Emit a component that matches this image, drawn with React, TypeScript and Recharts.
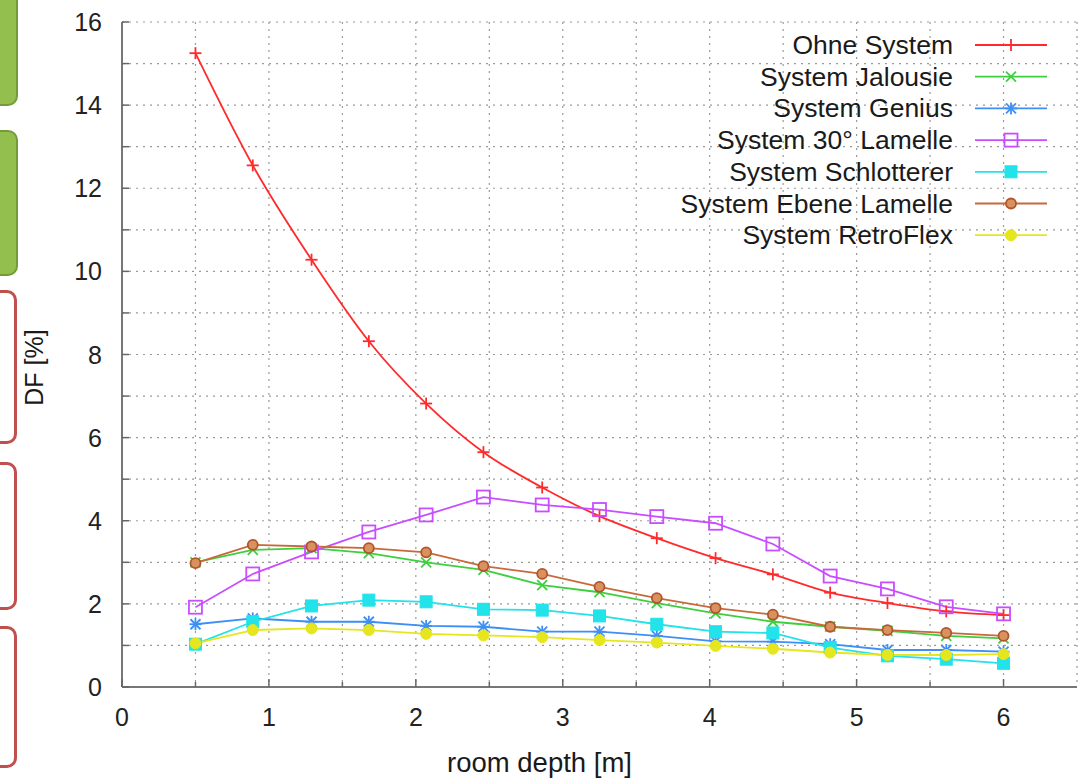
import React from "react";
import {
  LineChart,
  Line,
  XAxis,
  YAxis,
  CartesianGrid,
  Legend,
} from "recharts";

// ---- data ----
const DEPTH = [0.5, 0.89, 1.29, 1.68, 2.07, 2.46, 2.86, 3.25, 3.64, 4.04, 4.43, 4.82, 5.21, 5.61, 6.0];
const OHNE = [15.25, 12.55, 10.28, 8.32, 6.82, 5.65, 4.8, 4.11, 3.58, 3.1, 2.71, 2.27, 2.02, 1.82, 1.73];
const JALOUSIE = [3.0, 3.3, 3.34, 3.22, 3.0, 2.82, 2.45, 2.28, 2.02, 1.77, 1.57, 1.45, 1.35, 1.23, 1.17];
const GENIUS = [1.51, 1.65, 1.57, 1.57, 1.47, 1.45, 1.33, 1.33, 1.23, 1.1, 1.09, 1.03, 0.89, 0.89, 0.85];
const LAMELLE30 = [1.92, 2.72, 3.25, 3.73, 4.14, 4.57, 4.38, 4.27, 4.1, 3.94, 3.44, 2.67, 2.36, 1.93, 1.76];
const SCHLOTTERER = [1.03, 1.57, 1.95, 2.09, 2.05, 1.87, 1.85, 1.71, 1.51, 1.33, 1.3, 0.95, 0.75, 0.67, 0.57];
const EBENE = [2.98, 3.42, 3.38, 3.34, 3.24, 2.91, 2.72, 2.41, 2.14, 1.9, 1.74, 1.45, 1.37, 1.3, 1.23];
const RETROFLEX = [1.05, 1.37, 1.41, 1.37, 1.28, 1.24, 1.2, 1.13, 1.07, 0.99, 0.92, 0.83, 0.77, 0.77, 0.79];

const X_TICKS = [0, 0.5, 1, 1.5, 2, 2.5, 3, 3.5, 4, 4.5, 5, 5.5, 6];
const X_LABELS = [0, 1, 2, 3, 4, 5, 6];
const Y_TICKS = [0, 1, 2, 3, 4, 5, 6, 7, 8, 9, 10, 11, 12, 13, 14, 15, 16];
const Y_LABELS = [0, 2, 4, 6, 8, 10, 12, 14, 16];

type Shape = "plus" | "cross" | "star" | "openSquare" | "square" | "ring" | "dot";

const SERIES: { key: string; name: string; color: string; shape: Shape; values: number[]; curve: "monotone" | "linear" }[] = [
  { key: "ohne", name: "Ohne System", color: "#ff2b2b", shape: "plus", values: OHNE, curve: "monotone" },
  { key: "jalousie", name: "System Jalousie", color: "#3ecf3e", shape: "cross", values: JALOUSIE, curve: "linear" },
  { key: "genius", name: "System Genius", color: "#3d8ff5", shape: "star", values: GENIUS, curve: "linear" },
  { key: "lamelle30", name: "System 30° Lamelle", color: "#c84dff", shape: "openSquare", values: LAMELLE30, curve: "linear" },
  { key: "schlotterer", name: "System Schlotterer", color: "#22e2ea", shape: "square", values: SCHLOTTERER, curve: "linear" },
  { key: "ebene", name: "System Ebene Lamelle", color: "#c8693c", shape: "ring", values: EBENE, curve: "linear" },
  { key: "retroflex", name: "System RetroFlex", color: "#e6e61e", shape: "dot", values: RETROFLEX, curve: "linear" },
];

const data = DEPTH.map((d, i) => {
  const row: Record<string, number> = { depth: d };
  SERIES.forEach((s) => {
    row[s.key] = s.values[i];
  });
  return row;
});

const FONT = "'Liberation Sans', Arial, Helvetica, sans-serif";

function Marker({ x, y, shape, color }: { x: number; y: number; shape: Shape; color: string }) {
  switch (shape) {
    case "plus":
      return (
        <g stroke={color} strokeWidth={1.8}>
          <line x1={x - 6} y1={y} x2={x + 6} y2={y} />
          <line x1={x} y1={y - 6} x2={x} y2={y + 6} />
        </g>
      );
    case "cross":
      return (
        <g stroke={color} strokeWidth={1.8}>
          <line x1={x - 5} y1={y - 5} x2={x + 5} y2={y + 5} />
          <line x1={x - 5} y1={y + 5} x2={x + 5} y2={y - 5} />
        </g>
      );
    case "star":
      return (
        <g stroke={color} strokeWidth={1.8}>
          <line x1={x - 6} y1={y} x2={x + 6} y2={y} />
          <line x1={x} y1={y - 6} x2={x} y2={y + 6} />
          <line x1={x - 5} y1={y - 5} x2={x + 5} y2={y + 5} />
          <line x1={x - 5} y1={y + 5} x2={x + 5} y2={y - 5} />
        </g>
      );
    case "openSquare":
      return <rect x={x - 6.5} y={y - 6.5} width={13} height={13} fill="none" stroke={color} strokeWidth={1.8} />;
    case "square":
      return <rect x={x - 6} y={y - 6} width={12} height={12} fill={color} stroke={color} strokeWidth={1} />;
    case "ring":
      return <circle cx={x} cy={y} r={5} fill="#d8915f" stroke="#b0552a" strokeWidth={1.8} />;
    case "dot":
    default:
      return <circle cx={x} cy={y} r={5.5} fill={color} stroke={color} strokeWidth={1} />;
  }
}

const makeDot = (shape: Shape, color: string) => (props: any) => {
  const { cx, cy, index } = props;
  if (cx == null || cy == null) return <g key={`e-${index}`} />;
  return (
    <g key={`d-${index}`}>
      <Marker x={cx} y={cy} shape={shape} color={color} />
    </g>
  );
};

const BottomTick = (props: any) => {
  const { x, y, payload } = props;
  const v = payload.value;
  const major = X_LABELS.includes(v);
  return (
    <g>
      <line x1={x} y1={y} x2={x} y2={y - (major ? 8 : 5)} stroke="#666" strokeWidth={1.5} />
      {major && (
        <text x={x} y={y + 39} textAnchor="middle" fontSize={25} fontFamily={FONT} fill="#222">
          {v}
        </text>
      )}
    </g>
  );
};

const TopTick = (props: any) => {
  const { x, y, payload } = props;
  const major = X_LABELS.includes(payload.value);
  return <line x1={x} y1={y} x2={x} y2={y + (major ? 8 : 5)} stroke="#666" strokeWidth={1.5} />;
};

const LeftTick = (props: any) => {
  const { x, y, payload } = props;
  const v = payload.value;
  const major = Y_LABELS.includes(v);
  return (
    <g>
      <line x1={x} y1={y} x2={x + 7} y2={y} stroke="#666" strokeWidth={1.5} />
      {major && (
        <text x={x - 20} y={y + 9} textAnchor="end" fontSize={25} fontFamily={FONT} fill="#222">
          {v}
        </text>
      )}
    </g>
  );
};

const RightTick = (props: any) => {
  const { x, y } = props;
  return <line x1={x} y1={y} x2={x - 7} y2={y} stroke="#666" strokeWidth={1.5} />;
};

const LegendContent = () => (
  <svg width={1088} height={260} style={{ position: "absolute", left: 0, top: 0, overflow: "visible" }}>
    {SERIES.map((s, i) => {
      const cy = 45 + i * 31.7;
      return (
        <g key={s.key}>
          <text x={953} y={cy + 9} textAnchor="end" fontSize={26.5} fontFamily={FONT} fill="#1a1a1a">
            {s.name}
          </text>
          <line x1={975} y1={cy} x2={1047} y2={cy} stroke={s.color} strokeWidth={1.8} />
          <Marker x={1011} y={cy} shape={s.shape} color={s.color} />
        </g>
      );
    })}
  </svg>
);

const greenBox = (top: number, height: number): React.CSSProperties => ({
  position: "absolute",
  left: -12,
  top,
  width: 26,
  height,
  background: "#93bf4f",
  border: "2px solid #739c38",
  borderRadius: 10,
});

const redBox = (top: number, height: number): React.CSSProperties => ({
  position: "absolute",
  left: -12,
  top,
  width: 23,
  height,
  background: "#ffffff",
  border: "3px solid #c0504d",
  borderRadius: 10,
});

export default function App() {
  return (
    <div
      style={{
        position: "absolute",
        left: 0,
        top: 0,
        width: 1088,
        height: 779,
        background: "#ffffff",
        overflow: "hidden",
      }}
    >
      <div style={greenBox(-12, 114)} />
      <div style={greenBox(130, 142)} />
      <div style={redBox(290, 148)} />
      <div style={redBox(462, 142)} />
      <div style={redBox(626, 136)} />
      <div style={{ position: "absolute", left: 0, top: 0 }}>
        <LineChart width={1088} height={779} data={data} margin={{ top: 22, right: 11, bottom: 0, left: 0 }}>
          <CartesianGrid stroke="#9a9a9a" strokeDasharray="2 5" strokeWidth={1.2} />
          <XAxis
            xAxisId={0}
            type="number"
            dataKey="depth"
            domain={[0, 6.5]}
            ticks={X_TICKS}
            interval={0}
            height={92}
            tickSize={0}
            tickMargin={0}
            tickLine={false}
            axisLine={{ stroke: "#777", strokeWidth: 2 }}
            tick={BottomTick}
            label={{
              content: (p: any) => {
                const vb = p.viewBox;
                return (
                  <text
                    x={vb.x + vb.width / 2 - 60}
                    y={vb.y + 85}
                    textAnchor="middle"
                    fontSize={27.5}
                    fontFamily={FONT}
                    fill="#1a1a1a"
                  >
                    room depth [m]
                  </text>
                );
              },
            }}
          />
          <XAxis
            xAxisId="top"
            orientation="top"
            type="number"
            dataKey="depth"
            domain={[0, 6.5]}
            ticks={X_TICKS}
            interval={0}
            height={0}
            tickSize={0}
            tickMargin={0}
            tickLine={false}
            axisLine={{ stroke: "#777", strokeWidth: 2 }}
            tick={TopTick}
          />
          <YAxis
            yAxisId={0}
            type="number"
            domain={[0, 16]}
            ticks={Y_TICKS}
            interval={0}
            width={122}
            tickSize={0}
            tickMargin={0}
            tickLine={false}
            axisLine={{ stroke: "#777", strokeWidth: 2 }}
            tick={LeftTick}
            label={{
              content: (p: any) => {
                const vb = p.viewBox;
                const cy = vb.y + vb.height / 2 + 13;
                return (
                  <text
                    x={34}
                    y={cy}
                    transform={`rotate(-90 34 ${cy})`}
                    textAnchor="middle"
                    dominantBaseline="central"
                    fontSize={25}
                    fontFamily={FONT}
                    fill="#1a1a1a"
                  >
                    DF [%]
                  </text>
                );
              },
            }}
          />
          <YAxis
            yAxisId="right"
            orientation="right"
            type="number"
            domain={[0, 16]}
            ticks={Y_TICKS}
            interval={0}
            width={0}
            tickSize={0}
            tickMargin={0}
            tickLine={false}
            axisLine={{ stroke: "#777", strokeWidth: 2 }}
            tick={RightTick}
          />
          <Legend
            layout="vertical"
            align="center"
            verticalAlign="middle"
            wrapperStyle={{ position: "absolute", left: 0, top: 0, width: 1088, height: 260 }}
            content={LegendContent}
          />
          {SERIES.map((s) => (
            <Line
              key={s.key}
              xAxisId={0}
              yAxisId={0}
              dataKey={s.key}
              name={s.name}
              type={s.curve}
              stroke={s.color}
              strokeWidth={1.8}
              dot={makeDot(s.shape, s.color)}
              activeDot={false}
              isAnimationActive={false}
            />
          ))}
        </LineChart>
      </div>
    </div>
  );
}
